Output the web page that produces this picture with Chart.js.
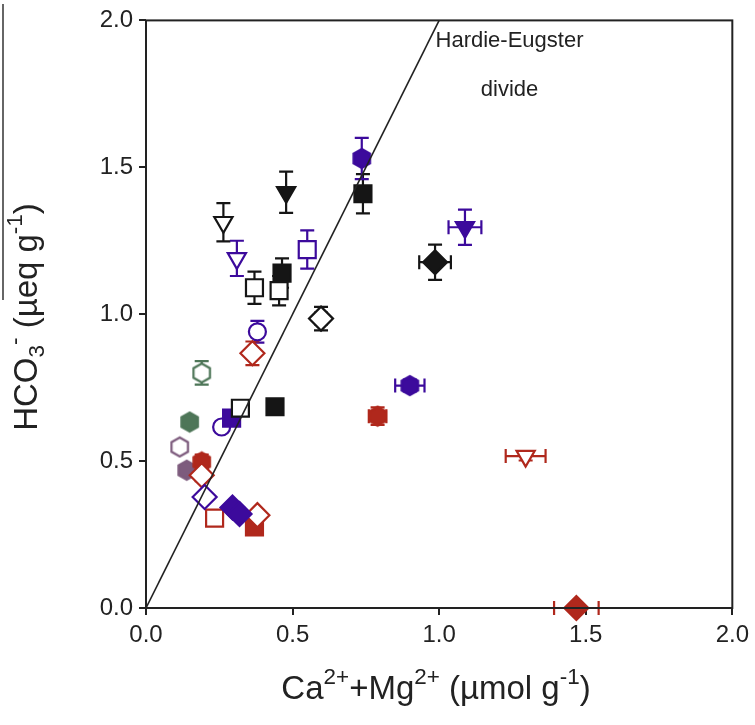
<!DOCTYPE html>
<html>
<head>
<meta charset="utf-8">
<script src="https://cdn.jsdelivr.net/npm/chart.js@4.4.0/dist/chart.umd.min.js"></script>
<style>
  body { margin: 0; background: #fff; }
  #wrap { width: 755px; height: 725px; position: relative; }
</style>
</head>
<body>
<div id="wrap"><canvas id="chart"></canvas></div>
<script>
// each point: [Ca+Mg, HCO3, xErr, yErr]
const blackOpenTri   = [[0.264, 1.313, 0, 0.065]];
const blackFullTri   = [[0.478, 1.415, 0, 0.07]];
const blackOpenSq    = [[0.37, 1.09, 0, 0.055], [0.454, 1.08, 0, 0.05], [0.322, 0.68, 0, 0.02]];
const blackFullSq    = [[0.464, 1.14, 0, 0.05], [0.74, 1.41, 0, 0.067], [0.44, 0.685, 0, 0.02]];
const blackOpenDia   = [[0.597, 0.985, 0.02, 0.04]];
const blackFullDia   = [[0.986, 1.177, 0.054, 0.06]];

const purpleOpenTri  = [[0.31, 1.19, 0, 0.06]];
const purpleFullTri  = [[1.088, 1.296, 0.056, 0.06]];
const purpleOpenSq   = [[0.55, 1.22, 0, 0.065]];
const purpleFullSq   = [[0.292, 0.646, 0, 0.02]];
const purpleOpenCirc = [[0.38, 0.94, 0, 0.037], [0.258, 0.616, 0, 0]];
const purpleFullHex  = [[0.736, 1.53, 0, 0.07], [0.90, 0.757, 0.05, 0.02]];
const purpleOpenDia  = [[0.20, 0.378, 0, 0]];
const purpleFullDia  = [[0.295, 0.342, 0, 0], [0.319, 0.32, 0, 0]];

const redOpenTri     = [[1.295, 0.517, 0.068, 0.015]];
const redOpenDia     = [[0.363, 0.867, 0, 0.04], [0.19, 0.452, 0, 0.02], [0.38, 0.316, 0, 0]];
const redFullHex     = [[0.79, 0.653, 0.03, 0.03], [0.19, 0.497, 0, 0.025]];
const redOpenSq      = [[0.234, 0.306, 0, 0]];
const redFullSq      = [[0.37, 0.276, 0, 0]];
const redFullDia     = [[1.468, 0.0, 0.076, 0]];

const greenOpenHex   = [[0.19, 0.80, 0, 0.04]];
const greenFullHex   = [[0.149, 0.633, 0, 0]];
const mauveOpenHex   = [[0.115, 0.548, 0, 0]];
const mauveFullHex   = [[0.139, 0.469, 0, 0]];

// Hardie-Eugster divide (HCO3 = 2 x (Ca+Mg))
const divideX = [0, 1];
const divideY = [0, 2];

const tickValues = [0, 0.5, 1, 1.5, 2];

const BLACK = '#151515', PURPLE = '#3c0a9c', RED = '#b0281c', GREEN = '#4e7658', MAUVE = '#7d5b7d';

const groups = [
    [blackOpenTri, BLACK, 'tri', false], [blackFullTri, BLACK, 'tri', true],
    [blackOpenSq, BLACK, 'sq', false], [blackFullSq, BLACK, 'sq', true],
    [blackOpenDia, BLACK, 'dia', false], [blackFullDia, BLACK, 'dia', true],
    [purpleOpenTri, PURPLE, 'tri', false], [purpleFullTri, PURPLE, 'tri', true],
    [purpleOpenSq, PURPLE, 'sq', false], [purpleFullSq, PURPLE, 'sq', true],
    [purpleOpenCirc, PURPLE, 'circ', false], [purpleFullHex, PURPLE, 'hex', true],
    [purpleOpenDia, PURPLE, 'dia', false], [purpleFullDia, PURPLE, 'dia', true],
    [redOpenTri, RED, 'tri', false], [redOpenDia, RED, 'dia', false],
    [redFullHex, RED, 'hex', true], [redOpenSq, RED, 'sq', false],
    [redFullSq, RED, 'sq', true], [redFullDia, RED, 'dia', true],
    [greenOpenHex, GREEN, 'hex', false], [greenFullHex, GREEN, 'hex', true],
    [mauveOpenHex, MAUVE, 'hex', false], [mauveFullHex, MAUVE, 'hex', true]
];

function hexStyle(color, filled, r) {
    const c = document.createElement('canvas');
    const s = Math.ceil(2 * r + 4);
    c.width = c.height = s;
    const g = c.getContext('2d');
    g.beginPath();
    for (let k = 0; k < 6; k++) {
        const a = -Math.PI / 2 + k * Math.PI / 3;
        const px = s / 2 + r * Math.cos(a), py = s / 2 + r * Math.sin(a);
        k ? g.lineTo(px, py) : g.moveTo(px, py);
    }
    g.closePath();
    g.fillStyle = filled ? color : '#fff';
    g.fill();
    g.lineWidth = 2.2;
    g.strokeStyle = color;
    g.stroke();
    return c;
}

function makeDataset([pts, color, shape, filled]) {
    const ds = {
        data: pts.map(p => ({ x: p[0], y: p[1], ex: p[2], ey: p[3] })),
        errColor: color,
        borderColor: color,
        backgroundColor: filled ? color : '#fff',
        borderWidth: 2.2,
        showLine: false,
        clip: false
    };
    if (shape === 'sq') { ds.pointStyle = 'rect'; ds.pointRadius = 12; }
    else if (shape === 'dia') { ds.pointStyle = 'rectRot'; ds.pointRadius = 12; }
    else if (shape === 'tri') { ds.pointStyle = 'triangle'; ds.rotation = 180; ds.pointRadius = 10.5; }
    else if (shape === 'circ') { ds.pointStyle = 'circle'; ds.pointRadius = 8.5; }
    else { ds.pointStyle = hexStyle(color, filled, 9.5); }
    return ds;
}

const errorBars = {
    id: 'errorBars',
    beforeDatasetsDraw(chart) {
        const { ctx, scales: { x, y } } = chart;
        chart.data.datasets.forEach((ds, i) => {
            if (!ds.errColor) return;
            const meta = chart.getDatasetMeta(i);
            ctx.save();
            ctx.strokeStyle = ds.errColor;
            ctx.lineWidth = 2.2;
            ds.data.forEach((p, j) => {
                const el = meta.data[j];
                const cap = 7;
                ctx.beginPath();
                if (p.ey) {
                    const y1 = y.getPixelForValue(p.y + p.ey), y2 = y.getPixelForValue(p.y - p.ey);
                    ctx.moveTo(el.x, y1); ctx.lineTo(el.x, y2);
                    ctx.moveTo(el.x - cap, y1); ctx.lineTo(el.x + cap, y1);
                    ctx.moveTo(el.x - cap, y2); ctx.lineTo(el.x + cap, y2);
                }
                if (p.ex) {
                    const x1 = x.getPixelForValue(p.x - p.ex), x2 = x.getPixelForValue(p.x + p.ex);
                    ctx.moveTo(x1, el.y); ctx.lineTo(x2, el.y);
                    ctx.moveTo(x1, el.y - cap); ctx.lineTo(x1, el.y + cap);
                    ctx.moveTo(x2, el.y - cap); ctx.lineTo(x2, el.y + cap);
                }
                ctx.stroke();
            });
            ctx.restore();
        });
    }
};

// draws text made of [string, 'sup'|'sub'|''] pieces, centred on (cx, cy)
function drawRich(ctx, parts, cx, cy, size) {
    const font = s => `${s}px "Liberation Sans", Arial, sans-serif`;
    const small = size * 0.68;
    let total = 0;
    parts.forEach(([t, m]) => { ctx.font = font(m ? small : size); total += ctx.measureText(t).width; });
    let xx = cx - total / 2;
    ctx.textBaseline = 'middle';
    ctx.textAlign = 'left';
    parts.forEach(([t, m]) => {
        ctx.font = font(m ? small : size);
        const dy = m === 'sup' ? -size * 0.38 : m === 'sub' ? size * 0.3 : 0;
        ctx.fillText(t, xx, cy + dy);
        xx += ctx.measureText(t).width;
    });
}

const decorations = {
    id: 'decorations',
    afterDraw(chart) {
        const { ctx, chartArea: a, scales: { x, y } } = chart;
        ctx.save();
        ctx.strokeStyle = '#222';
        ctx.lineWidth = 2;
        ctx.strokeRect(a.left, a.top, a.right - a.left, a.bottom - a.top);

        ctx.fillStyle = '#222';
        ctx.textAlign = 'center';
        ctx.textBaseline = 'middle';
        ctx.font = '22px "Liberation Sans", Arial, sans-serif';
        ctx.fillText('Hardie-Eugster', x.getPixelForValue(1.24), y.getPixelForValue(1.93));
        ctx.fillText('divide', x.getPixelForValue(1.24), y.getPixelForValue(1.765));

        drawRich(ctx, [['Ca', ''], ['2+', 'sup'], ['+Mg', ''], ['2+', 'sup'], [' (\u00b5mol g', ''], ['-1', 'sup'], [')', '']],
            436, 690, 33);

        ctx.save();
        ctx.translate(28, 317);
        ctx.rotate(-Math.PI / 2);
        drawRich(ctx, [['HCO', ''], ['3', 'sub'], ['-', 'sup'], [' (\u00b5eq g', ''], ['-1', 'sup'], [')', '']], 0, 0, 33);
        ctx.restore();

        ctx.strokeStyle = '#333';
        ctx.lineWidth = 1.5;
        ctx.beginPath();
        ctx.moveTo(3, 4);
        ctx.lineTo(3, 300);
        ctx.stroke();
        ctx.restore();
    }
};

const tickFont = { family: '"Liberation Sans", Arial, sans-serif', size: 24 };
const axisCommon = {
    type: 'linear',
    min: 0,
    max: 2,
    border: { display: false },
    grid: { drawOnChartArea: false, drawTicks: true, tickLength: 7, color: '#222', lineWidth: 2 },
    afterBuildTicks: s => { s.ticks = tickValues.map(v => ({ value: v })); },
    ticks: { font: tickFont, color: '#222', padding: 6, callback: v => v.toFixed(1), maxRotation: 0 }
};

new Chart(document.getElementById('chart'), {
    type: 'scatter',
    data: {
        datasets: [
            {
                type: 'line',
                data: divideX.map((v, i) => ({ x: v, y: divideY[i] })),
                borderColor: '#222',
                borderWidth: 1.6,
                pointRadius: 0,
                clip: true
            },
            ...groups.map(makeDataset)
        ]
    },
    options: {
        responsive: true,
        maintainAspectRatio: false,
        animation: false,
        layout: { padding: { top: 20, right: 19, left: 0, bottom: 0 } },
        plugins: { legend: { display: false }, tooltip: { enabled: false } },
        scales: {
            x: { ...axisCommon, afterFit: s => { s.height = 117; } },
            y: { ...axisCommon, afterFit: s => { s.width = 146; } }
        }
    },
    plugins: [errorBars, decorations]
});
</script>
</body>
</html>
